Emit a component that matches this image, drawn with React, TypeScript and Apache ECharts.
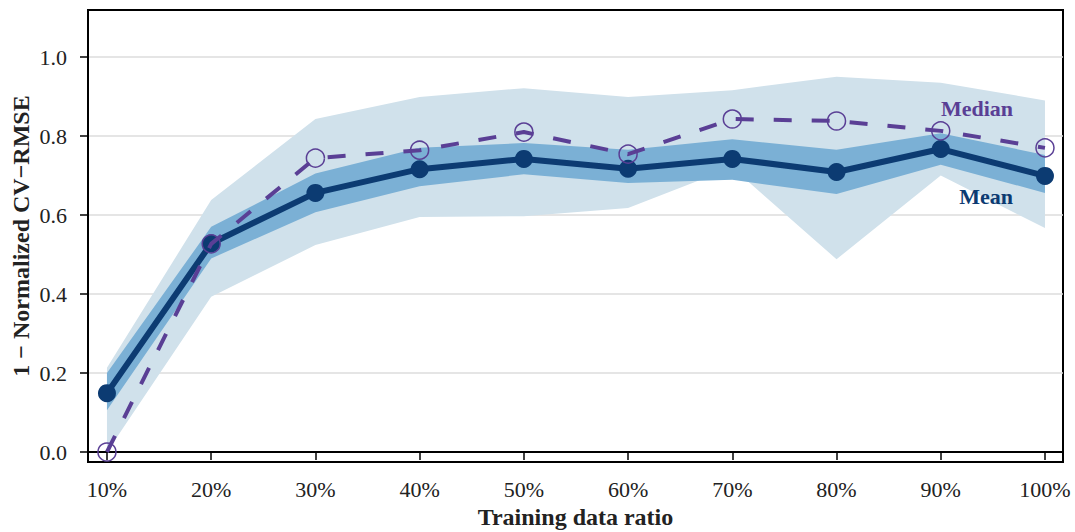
import React, { useEffect, useRef } from "react";
import * as echarts from "echarts";

const ratios = [10, 20, 30, 40, 50, 60, 70, 80, 90, 100];
const meanValues = [0.149, 0.528, 0.656, 0.716, 0.742, 0.717, 0.742, 0.709, 0.767, 0.699];
const medianValues = [0.0, 0.527, 0.744, 0.764, 0.81, 0.754, 0.843, 0.838, 0.813, 0.77];
const outerLower = [0.0, 0.393, 0.524, 0.595, 0.597, 0.618, 0.72, 0.488, 0.7, 0.567];
const outerUpper = [0.213, 0.638, 0.843, 0.899, 0.921, 0.899, 0.916, 0.95, 0.935, 0.89];
const innerLower = [0.106, 0.49, 0.607, 0.673, 0.703, 0.681, 0.689, 0.653, 0.727, 0.656];
const innerUpper = [0.2, 0.57, 0.705, 0.77, 0.782, 0.765, 0.792, 0.765, 0.807, 0.752];
const yTicks = [0, 0.2, 0.4, 0.6, 0.8, 1.0];

const NAVY = "#0c3b72";
const PURPLE = "#5a3f95";
const LIGHT = "#d0e1eb";
const DARK = "#7bb0d5";
const FONT = "Liberation Serif";

function bandSeries(lower: number[], upper: number[], color: string, z: number) {
  return {
    type: "custom",
    z,
    silent: true,
    data: ratios.map((r, i) => [r, lower[i], upper[i]]),
    encode: { x: 0, y: [1, 2] },
    renderItem: (params: any, api: any) => {
      if (params.dataIndex !== 0) return { type: "group", children: [] };
      const top = ratios.map((r, i) => api.coord([r, upper[i]]));
      const bot = ratios.map((r, i) => api.coord([r, lower[i]])).reverse();
      return {
        type: "polygon",
        shape: { points: top.concat(bot) },
        style: { fill: color },
        silent: true,
      };
    },
  };
}

export default function App() {
  const ref = useRef<HTMLDivElement>(null);
  useEffect(() => {
    if (!ref.current) return;
    const chart = echarts.init(ref.current, undefined, { renderer: "svg" });
    chart.setOption({
      animation: false,
      backgroundColor: "#ffffff",
      grid: {
        left: 88,
        right: 12,
        top: 10,
        bottom: 70,
        show: true,
        borderColor: "#000",
        borderWidth: 2,
        backgroundColor: "transparent",
        containLabel: false,
        outerBoundsMode: "none",
      },
      xAxis: {
        type: "value",
        min: 8.18,
        max: 101.73,
        name: "Training data ratio",
        nameLocation: "middle",
        nameGap: 43,
        nameMoveOverlap: false,
        nameTextStyle: { fontFamily: FONT, fontSize: 24, fontWeight: "bold", color: "#222" },
        axisLine: { show: true, lineStyle: { color: "#000", width: 2 } },
        axisTick: { show: true, customValues: ratios, length: 8, lineStyle: { color: "#000", width: 1.5 } },
        axisLabel: {
          customValues: ratios,
          formatter: (v: number) => `${v}%`,
          margin: 16,
          fontFamily: FONT,
          fontSize: 22,
          color: "#222",
        },
        splitLine: { show: false },
      },
      yAxis: {
        type: "value",
        min: -0.0253,
        max: 1.119,
        name: "1 \u2212 Normalized CV\u2212RMSE",
        nameLocation: "middle",
        nameGap: 55,
        nameMoveOverlap: false,
        nameTextStyle: { fontFamily: FONT, fontSize: 24, fontWeight: "bold", color: "#222" },
        axisLine: { show: true, lineStyle: { color: "#000", width: 2 } },
        axisTick: { show: true, customValues: yTicks, length: 8, lineStyle: { color: "#000", width: 1.5 } },
        axisLabel: {
          customValues: yTicks,
          formatter: (v: number) => v.toFixed(1),
          margin: 21,
          fontFamily: FONT,
          fontSize: 22,
          color: "#222",
        },
        splitLine: { show: true, lineStyle: { color: "#dcdcdc", width: 1.5 } },
      },
      series: [
        bandSeries(outerLower, outerUpper, LIGHT, 1),
        bandSeries(innerLower, innerUpper, DARK, 2),
        {
          type: "line",
          z: 3,
          data: ratios.map((r, i) => [r, meanValues[i]]),
          symbol: "circle",
          symbolSize: 18,
          itemStyle: { color: NAVY },
          lineStyle: { color: NAVY, width: 6 },
        },
        {
          type: "line",
          z: 4,
          data: ratios.map((r, i) => [r, medianValues[i]]),
          symbol: "circle",
          symbolSize: 18,
          itemStyle: { color: "transparent", borderColor: PURPLE, borderWidth: 1.5 },
          lineStyle: { color: PURPLE, width: 4, type: [18, 20] },
        },
      ],
      graphic: [
        {
          type: "text",
          z: 100,
          x: 1013,
          y: 108,
          style: {
            text: "Median",
            fill: PURPLE,
            fontFamily: FONT,
            fontSize: 22,
            fontWeight: "bold",
            textAlign: "right",
            textVerticalAlign: "middle",
          },
        },
        {
          type: "text",
          z: 100,
          x: 1013,
          y: 196,
          style: {
            text: "Mean",
            fill: NAVY,
            fontFamily: FONT,
            fontSize: 22,
            fontWeight: "bold",
            textAlign: "right",
            textVerticalAlign: "middle",
          },
        },
      ],
    });
    return () => chart.dispose();
  }, []);
  return (
    <div
      ref={ref}
      style={{ position: "absolute", left: 0, top: 0, width: 1075, height: 532 }}
    />
  );
}
